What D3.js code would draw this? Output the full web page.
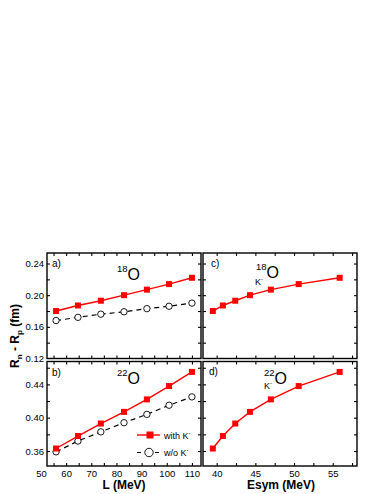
<!DOCTYPE html>
<html lang="en">
<head>
<meta charset="utf-8">
<title>Neutron skin vs L and Esym</title>
<style>
  body { margin: 0; background: #fff; }
  svg text { font-family: "Liberation Sans", Arial, sans-serif; fill: #000; }
</style>
</head>
<body>
<div id="chart"></div>
<script src="https://d3js.org/d3.v7.min.js"></script>
<script>
// ---- data ----
var lValues    = [56, 64.7, 73.8, 83, 92.1, 100.9, 110];        // L (MeV)
var esymValues = [39.5, 40.8, 42.4, 44.3, 47.0, 50.6, 55.9];    // Esym (MeV)
var o18WithK    = [0.180, 0.187, 0.193, 0.200, 0.207, 0.214, 0.222];
var o18WithoutK = [0.168, 0.172, 0.176, 0.179, 0.183, 0.186, 0.190];
var o22WithK    = [0.363, 0.378, 0.393, 0.407, 0.422, 0.438, 0.455];
var o22WithoutK = [0.359, 0.372, 0.383, 0.394, 0.404, 0.415, 0.425];

var lTickLabels    = [50, 60, 70, 80, 90, 100, 110];
var esymTickLabels = [40, 45, 50, 55];
var o18TickLabels  = [0.12, 0.16, 0.20, 0.24];
var o22TickLabels  = [0.36, 0.40, 0.44];

var width = 382, height = 494;
var red = "#ff0000";

var svg = d3.select("#chart").append("svg")
    .attr("width", width)
    .attr("height", height);

// shared scales
var xL = d3.scaleLinear().domain([52.4, 113.6]).range([47, 201]);
var xE = d3.scaleLinear().domain([38.23, 58.14]).range([203, 357]);
var yTop = d3.scaleLinear().domain([0.12, 0.2533]).range([358.5, 253]);
var yBot = d3.scaleLinear().domain([0.342, 0.4675]).range([466, 361.5]);

function inDomain(scale, v) {
    var d = scale.domain();
    return v > d[0] + 1e-9 && v < d[1] - 1e-9;
}

function frame(x, y, showXLabels, showYLabels, xLabels, yLabels, xStep, yStep) {
    var g = svg.append("g");
    var xd = x.domain(), yd = y.domain();
    var xt = d3.range(Math.ceil(xd[0] / xStep) * xStep, xd[1], xStep).filter(function (v) { return inDomain(x, v); });
    var yt = d3.range(Math.ceil(yd[0] / yStep - 1e-6) * yStep, yd[1], yStep).filter(function (v) { return inDomain(y, v); });

    var x0 = x.range()[0], x1 = x.range()[1];
    var y0 = y.range()[1], y1 = y.range()[0];

    // inward ticks on all sides
    g.append("g").attr("transform", "translate(0," + y1 + ")")
        .call(d3.axisBottom(x).tickValues(xt).tickSize(-3).tickFormat(""));
    g.append("g").attr("transform", "translate(0," + y0 + ")")
        .call(d3.axisTop(x).tickValues(xt).tickSize(-3).tickFormat(""));
    g.append("g").attr("transform", "translate(" + x0 + ",0)")
        .call(d3.axisLeft(y).tickValues(yt).tickSize(-3).tickFormat(""));
    g.append("g").attr("transform", "translate(" + x1 + ",0)")
        .call(d3.axisRight(y).tickValues(yt).tickSize(-3).tickFormat(""));
    g.selectAll(".domain").remove();
    g.selectAll(".tick line").attr("stroke", "#000").attr("stroke-width", 1.1);

    g.append("rect")
        .attr("x", x0).attr("y", y0)
        .attr("width", x1 - x0).attr("height", y1 - y0)
        .attr("fill", "none").attr("stroke", "#000").attr("stroke-width", 1.4);

    if (showXLabels) {
        var ax = g.append("g").attr("transform", "translate(0," + y1 + ")")
            .call(d3.axisBottom(x).tickValues(xLabels).tickSize(0).tickPadding(4).tickFormat(d3.format("d")));
        ax.select(".domain").remove();
        ax.selectAll("text").style("font-size", "9.5px").style("font-family", "Liberation Sans, Arial, sans-serif");
    }
    if (showYLabels) {
        var ay = g.append("g").attr("transform", "translate(" + x0 + ",0)")
            .call(d3.axisLeft(y).tickValues(yLabels).tickSize(0).tickPadding(3).tickFormat(d3.format(".2f")));
        ay.select(".domain").remove();
        ay.selectAll("text").style("font-size", "9.5px").style("font-family", "Liberation Sans, Arial, sans-serif");
    }
}

function series(xs, ys, x, y, withK) {
    var pts = xs.map(function (d, i) { return [x(d), y(ys[i])]; });
    var line = d3.line();
    if (withK) {
        svg.append("path").attr("d", line(pts))
            .attr("fill", "none").attr("stroke", red).attr("stroke-width", 1.4);
        svg.selectAll(null).data(pts).enter().append("rect")
            .attr("x", function (p) { return p[0] - 3; })
            .attr("y", function (p) { return p[1] - 3; })
            .attr("width", 6).attr("height", 6)
            .attr("fill", red);
    } else {
        svg.append("path").attr("d", line(pts))
            .attr("fill", "none").attr("stroke", "#000").attr("stroke-width", 1.2)
            .attr("stroke-dasharray", "5,4");
        svg.selectAll(null).data(pts).enter().append("circle")
            .attr("cx", function (p) { return p[0]; })
            .attr("cy", function (p) { return p[1]; })
            .attr("r", 3.2)
            .attr("fill", "#fff").attr("stroke", "#000").attr("stroke-width", 0.9);
    }
}

frame(xL, yTop, false, true, lTickLabels, o18TickLabels, 5, 0.02);
frame(xL, yBot, true, true, lTickLabels, o22TickLabels, 5, 0.02);
frame(xE, yTop, false, false, esymTickLabels, o18TickLabels, 2.5, 0.02);
frame(xE, yBot, true, false, esymTickLabels, o22TickLabels, 2.5, 0.02);

series(lValues, o18WithoutK, xL, yTop, false);
series(lValues, o18WithK, xL, yTop, true);
series(lValues, o22WithoutK, xL, yBot, false);
series(lValues, o22WithK, xL, yBot, true);
series(esymValues, o18WithK, xE, yTop, true);
series(esymValues, o22WithK, xE, yBot, true);

// panel tags
function tag(x, y, s) {
    svg.append("text").attr("x", x).attr("y", y).style("font-size", "10px").text(s);
}
tag(52, 267, "a)");
tag(52, 376, "b)");
tag(211, 267, "c)");
tag(209, 375, "d)");

// nucleus labels
function nucleus(x, y, mass) {
    svg.append("text").attr("x", x).attr("y", y - 8).style("font-size", "9.5px").text(mass);
    svg.append("text").attr("x", x + 10.5).attr("y", y).style("font-size", "16px").text("O");
}
function kminus(x, y) {
    var t = svg.append("text").attr("x", x).attr("y", y).style("font-size", "9px");
    t.append("tspan").text("K");
    t.append("tspan").attr("dy", -4).style("font-size", "6px").text("-");
}
nucleus(117, 280, "18");
nucleus(117, 383.5, "22");
nucleus(256, 278, "18");
kminus(255, 285);
nucleus(264, 383.5, "22");
kminus(264, 389);

// legend
var lg = svg.append("g");
lg.append("line").attr("x1", 137).attr("x2", 160).attr("y1", 435).attr("y2", 435)
    .attr("stroke", red).attr("stroke-width", 1.4);
lg.append("rect").attr("x", 146.5).attr("y", 431.5).attr("width", 7).attr("height", 7).attr("fill", red);
lg.append("line").attr("x1", 137).attr("x2", 160).attr("y1", 452.5).attr("y2", 452.5)
    .attr("stroke", "#000").attr("stroke-width", 1.2).attr("stroke-dasharray", "4,5");
lg.append("circle").attr("cx", 149).attr("cy", 452.5).attr("r", 4.2)
    .attr("fill", "#fff").attr("stroke", "#000").attr("stroke-width", 0.9);
function legendText(x, y, s) {
    var t = lg.append("text").attr("x", x).attr("y", y).style("font-size", "9px");
    t.append("tspan").text(s + "K");
    t.append("tspan").attr("dy", -4).style("font-size", "6px").text("-");
}
legendText(164, 438.5, "with ");
legendText(164, 456, "w/o ");

// axis titles
svg.append("text").attr("x", 124).attr("y", 489).attr("text-anchor", "middle")
    .style("font-size", "12px").style("font-weight", "bold").text("L (MeV)");
svg.append("text").attr("x", 281).attr("y", 489).attr("text-anchor", "middle")
    .style("font-size", "12px").style("font-weight", "bold").text("Esym (MeV)");

var yt = svg.append("text")
    .attr("transform", "translate(19,336) rotate(-90)")
    .attr("text-anchor", "middle")
    .style("font-size", "12px").style("font-weight", "bold");
yt.append("tspan").text("R");
yt.append("tspan").attr("dy", 3).style("font-size", "8px").text("n");
yt.append("tspan").attr("dy", -3).text(" - R");
yt.append("tspan").attr("dy", 3).style("font-size", "8px").text("p");
yt.append("tspan").attr("dy", -3).text("  (fm)");
</script>
</body>
</html>
